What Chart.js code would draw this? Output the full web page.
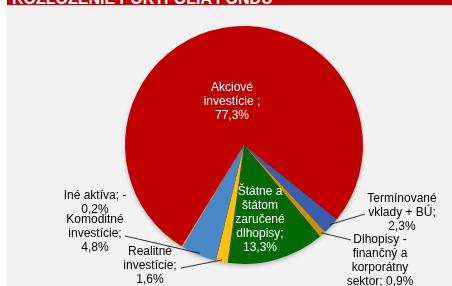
<!DOCTYPE html>
<html>
<head>
<meta charset="utf-8">
<script src="https://cdn.jsdelivr.net/npm/chart.js@4"></script>
<style>
  body { margin: 0; background: #fff; }
  #wrap { position: relative; width: 452px; height: 286px; overflow: hidden; }
  #panel { position: absolute; left: 7px; top: 0; width: 445px; height: 286px; background: #f2f2f2; }
  #title { position: absolute; left: 7px; top: 0; width: 445px; height: 5px; background: #c00000; overflow: hidden; }
  #title span { position: absolute; left: 5px; top: -9px; font: bold 16px/16px "Liberation Sans", Arial, sans-serif; color: #fff; white-space: nowrap; }
  #pie { position: absolute; left: 0; top: 0; }
</style>
</head>
<body>
<div id="wrap">
  <div id="panel"></div>
  <div id="title"><span>ROZLOŽENIE PORTFÓLIA FONDU</span></div>
  <canvas id="pie" width="452" height="286"></canvas>
</div>
<script>
// categories and values (percent of the fund)
const categories = ['Akciové investície', 'Termínované vklady + BÚ', 'Dlhopisy - finančný a korporátny sektor',
  'Štátne a štátom zaručené dlhopisy', 'Realitné investície', 'Komoditné investície', 'Iné aktíva'];
const values = [77.3, 2.3, 0.9, 13.3, 1.6, 4.8, -0.2];
const colors = ['#c00000', '#3a5fae', '#c4920c', '#006a00', '#ffc000', '#4a87c6', '#a5a5a5'];

// how each label wraps; {s} = sign, {a} = value
const labelTemplates = [
  'Akciové\ninvestície ;\n{s}{a}',
  'Termínované\nvklady + BÚ;\n{s}{a}',
  'Dlhopisy -\nfinančný a\nkorporátny\nsektor; {s}{a}',
  'Štátne a\nštátom\nzaručené\ndlhopisy;\n{s}{a}',
  'Realitné\ninvestície;\n{s}{a}',
  'Komoditné\ninvestície;\n{s}{a}',
  'Iné aktíva; {s}\n{a}'
];

// label placement relative to pie centre (px), leader end point, text colour
const labelLayout = [
  { dx: -12, dy: -43, color: '#fff' },
  { dx: 158, dy: 68, lx: 121, ly: 69, color: '#000' },
  { dx: 136, dy: 116, lx: 107, ly: 95, color: '#000' },
  { dx: 16, dy: 75, color: '#fff' },
  { dx: -94, dy: 121, lx: -63, ly: 123, color: '#000' },
  { dx: -149, dy: 89, lx: -119, ly: 91, color: '#000' },
  { dx: -149, dy: 58, color: '#000' }
];

function fmt(v) {
  return Math.abs(v).toFixed(1).replace('.', ',') + '%';
}

const pieDecor = {
  id: 'pieDecor',
  beforeDatasetsDraw(chart) {
    const arc = chart.getDatasetMeta(0).data[0];
    const c = chart.ctx;
    c.save();
    c.shadowColor = 'rgba(0,0,0,0.35)';
    c.shadowBlur = 5;
    c.shadowOffsetY = 2;
    c.beginPath();
    c.arc(arc.x, arc.y, arc.outerRadius - 1, 0, Math.PI * 2);
    c.fillStyle = '#c00000';
    c.fill();
    c.restore();
  },
  afterDatasetsDraw(chart) {
    const meta = chart.getDatasetMeta(0);
    const c = chart.ctx;
    const lh = 14;
    c.save();
    c.font = '12px "Liberation Sans", Arial, sans-serif';
    c.textAlign = 'center';
    c.textBaseline = 'middle';
    meta.data.forEach((arc, i) => {
      const L = labelLayout[i];
      const v = values[i];
      const text = labelTemplates[i].replace('{s}', v < 0 ? '-' : '').replace('{a}', fmt(v));
      const lines = text.split('\n');
      const cx = arc.x + L.dx;
      const cy = arc.y + L.dy;
      if (L.lx !== undefined) {
        const mid = (arc.startAngle + arc.endAngle) / 2;
        const r = arc.outerRadius - 2;
        c.beginPath();
        c.moveTo(arc.x + Math.cos(mid) * r, arc.y + Math.sin(mid) * r);
        c.lineTo(arc.x + L.lx, arc.y + L.ly);
        c.strokeStyle = '#1a1a1a';
        c.lineWidth = 0.9;
        c.stroke();
      }
      c.fillStyle = L.color;
      lines.forEach((ln, k) => {
        c.fillText(ln, cx, cy + (k - (lines.length - 1) / 2) * lh);
      });
    });
    c.restore();
  }
};

new Chart(document.getElementById('pie'), {
  type: 'pie',
  data: {
    labels: categories,
    datasets: [{
      data: values,
      backgroundColor: colors,
      borderWidth: 0
    }]
  },
  options: {
    responsive: false,
    animation: false,
    rotation: 211.6,
    layout: { padding: { left: 125, right: 89, top: 26, bottom: 22 } },
    plugins: {
      legend: { display: false },
      tooltip: { enabled: false }
    }
  },
  plugins: [pieDecor]
});
</script>
</body>
</html>
